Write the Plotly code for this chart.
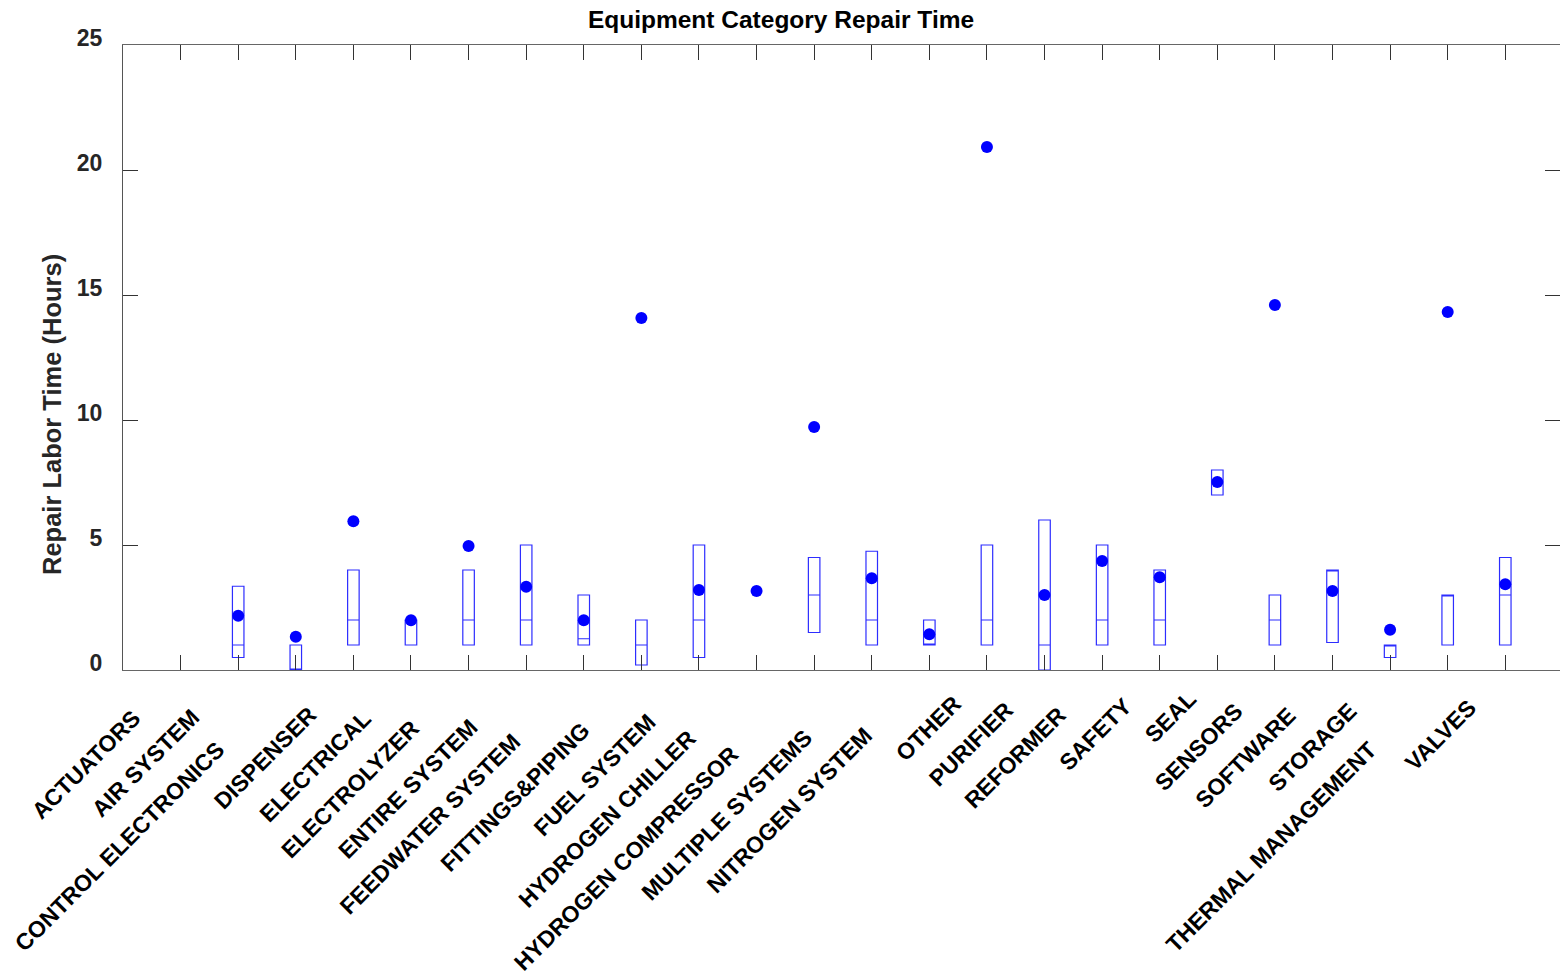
import plotly.graph_objects as go

# ---------------- data ----------------
categories = ["ACTUATORS", "AIR SYSTEM", "CONTROL ELECTRONICS", "DISPENSER", "ELECTRICAL",
              "ELECTROLYZER", "ENTIRE SYSTEM", "FEEDWATER SYSTEM", "FITTINGS&PIPING",
              "FUEL SYSTEM", "HYDROGEN CHILLER", "HYDROGEN COMPRESSOR", "MULTIPLE SYSTEMS",
              "NITROGEN SYSTEM", "OTHER", "PURIFIER", "REFORMER", "SAFETY", "SEAL", "SENSORS",
              "SOFTWARE", "STORAGE", "THERMAL MANAGEMENT", "VALVES"]
q1_vals = [None, 0.5, 0.0, 1.0, 1.0, 1.0, 1.0, 1.0, 0.2, 0.5, None, 1.5, 1.0, 1.0, 1.0,
           0.0, 1.0, 1.0, 7.0, 1.0, 1.1, 0.5, 1.0, 1.0]
median_vals = [None, 1.0, 0.0, 2.0, 2.0, 2.0, 2.0, 1.25, 1.0, 2.0, None, 3.0, 2.0, 1.0, 2.0,
               1.0, 2.0, 2.0, 7.5, 2.0, 4.0, 1.0, 3.0, 3.0]
q3_vals = [None, 3.35, 1.0, 4.0, 2.0, 4.0, 5.0, 3.0, 2.0, 5.0, None, 4.5, 4.75, 2.0, 5.0,
           6.0, 5.0, 4.0, 8.0, 3.0, 4.0, 1.0, 3.0, 4.5]
mean_vals = [None, 2.17, 1.33, 5.95, 1.99, 4.96, 3.33, 1.99, 14.08, 3.2, 3.16, 9.72, 3.67,
             1.43, 20.92, 3.0, 4.36, 3.71, 7.52, 14.6, 3.16, 1.61, 14.32, 3.43]
y_ticks = [0, 5, 10, 15, 20, 25]

positions = list(range(1, len(categories) + 1))

# ---------------- figure ----------------
fig = go.Figure()

bx = [p for p, q in zip(positions, q1_vals) if q is not None]
bq1 = [q for q in q1_vals if q is not None]
bmed = [m for m in median_vals if m is not None]
bq3 = [q for q in q3_vals if q is not None]
fig.add_trace(go.Box(
    x=bx, q1=bq1, median=bmed, q3=bq3, lowerfence=bq1, upperfence=bq3,
    width=0.2, whiskerwidth=0, fillcolor="rgba(0,0,0,0)",
    line=dict(color="rgb(45,45,255)", width=1.2), boxpoints=False,
    hoverinfo="skip", showlegend=False))

mx = [p for p, m in zip(positions, mean_vals) if m is not None]
my = [m for m in mean_vals if m is not None]
fig.add_trace(go.Scatter(x=mx, y=my, mode="markers",
                         marker=dict(color="#0000ff", size=12, line=dict(width=0)),
                         showlegend=False, hoverinfo="skip"))

# page layout (body margin removed by post_script)
W_FIG, H_FIG = 1560, 977
ML, MR, MT, MB = 123, 0, 45, 307
pw, ph = W_FIG - ML - MR, H_FIG - MT - MB
plot_left, plot_bottom = ML, MT + ph

# rotated category labels (annotations), offset grows with text width
FS = 23
W = {" ": 278, "&": 722, "A": 722, "B": 722, "C": 722, "D": 722, "E": 667, "F": 611, "G": 778,
     "H": 722, "I": 278, "J": 556, "K": 722, "L": 611, "M": 833, "N": 722, "O": 778, "P": 667,
     "Q": 778, "R": 722, "S": 667, "T": 611, "U": 722, "V": 667, "W": 944, "X": 667, "Y": 667,
     "Z": 611}
annotations = []
for p, lab in zip(positions, categories):
    w = sum(W.get(c, 667) for c in lab) * FS / 1000.0
    d = 0.576 * w + 11.8
    annotations.append(dict(x=p, y=0, xref="x", yref="y", text=lab, showarrow=False,
                            textangle=-45, xanchor="center", yanchor="middle",
                            xshift=-d, yshift=-d,
                            font=dict(family="Liberation Sans, Arial", size=FS,
                                      color="#000000", weight="bold")))

# y-axis title as annotation (not centred on the plot)
annotations.append(dict(x=(52 - plot_left) / pw, y=(plot_bottom - 415) / ph,
                        xref="paper", yref="paper", text="Repair Labor Time (Hours)",
                        showarrow=False, textangle=-90, xanchor="center", yanchor="middle",
                        font=dict(family="Liberation Sans, Arial", size=25.5,
                                  color="#262626", weight="bold")))

fig.update_layout(
    width=W_FIG, height=H_FIG,
    margin=dict(l=ML, r=MR, t=MT, b=MB, pad=0),
    paper_bgcolor="white", plot_bgcolor="white",
    title=dict(text="Equipment Category Repair Time", x=781 / W_FIG, xref="container",
               xanchor="center", y=1 - 19 / H_FIG, yref="container", yanchor="middle",
               font=dict(family="Liberation Sans, Arial", size=24.5, color="#000000",
                         weight="bold")),
    annotations=annotations,
    xaxis=dict(range=[0, 24.95], tickmode="array", tickvals=positions, showticklabels=False,
               ticks="inside", ticklen=15, tickwidth=1, tickcolor="#333333",
               showline=True, linecolor="#666666", linewidth=1, mirror="ticks",
               showgrid=False, zeroline=False),
    yaxis=dict(range=[0, 25], tickmode="array", tickvals=y_ticks,
               ticktext=[str(v) for v in y_ticks],
               ticks="inside", ticklen=15, tickwidth=1, tickcolor="#333333",
               showline=True, linecolor="#555555", linewidth=1, mirror="ticks",
               showgrid=False, zeroline=False, ticklabelshift=-7, ticklabelstandoff=15,
               tickfont=dict(family="Liberation Sans, Arial", size=23, color="#262626",
                             weight="bold")),
)

fig.write_html("out.html",
               config={"displayModeBar": False},
               post_script="document.body.style.margin='0px';"
                           "document.documentElement.style.overflow='hidden';"
                           "document.body.style.overflow='hidden';")
